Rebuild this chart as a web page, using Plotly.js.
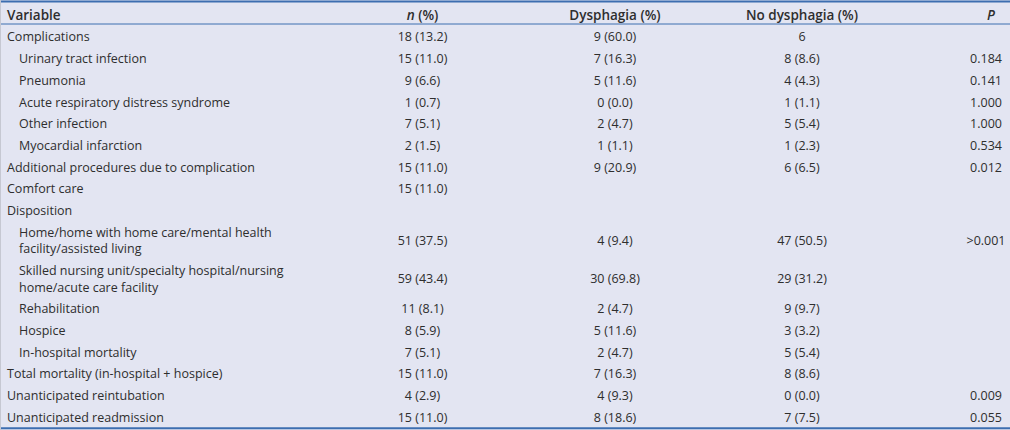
<!DOCTYPE html>
<html>
<head>
<meta charset="utf-8">
<script src="https://cdn.plot.ly/plotly-3.0.1.min.js"></script>
<style>
html,body{margin:0;padding:0;background:#e3e5f2;}
#chart{width:1010px;height:430px;}
</style>
</head>
<body>
<div id="chart"></div>
<script>
// ---- data ----
const headers = ["Variable", "<i>n</i> (%)", "Dysphagia (%)", "No dysphagia (%)", "<i>P</i>"];

const variables = [
  "Complications",
  "Urinary tract infection",
  "Pneumonia",
  "Acute respiratory distress syndrome",
  "Other infection",
  "Myocardial infarction",
  "Additional procedures due to complication",
  "Comfort care",
  "Disposition",
  "Home/home with home care/mental health<br>facility/assisted living",
  "Skilled nursing unit/specialty hospital/nursing<br>home/acute care facility",
  "Rehabilitation",
  "Hospice",
  "In-hospital mortality",
  "Total mortality (in-hospital + hospice)",
  "Unanticipated reintubation",
  "Unanticipated readmission"
];

const levels = [0, 1, 1, 1, 1, 1, 0, 0, 0, 1, 1, 1, 1, 1, 0, 0, 0];

const nPct = ["18 (13.2)", "15 (11.0)", "9 (6.6)", "1 (0.7)", "7 (5.1)", "2 (1.5)", "15 (11.0)", "15 (11.0)", "",
  "51 (37.5)", "59 (43.4)", "11 (8.1)", "8 (5.9)", "7 (5.1)", "15 (11.0)", "4 (2.9)", "15 (11.0)"];

const dysphagia = ["9 (60.0)", "7 (16.3)", "5 (11.6)", "0 (0.0)", "2 (4.7)", "1 (1.1)", "9 (20.9)", "", "",
  "4 (9.4)", "30 (69.8)", "2 (4.7)", "5 (11.6)", "2 (4.7)", "7 (16.3)", "4 (9.3)", "8 (18.6)"];

const noDysphagia = ["6", "8 (8.6)", "4 (4.3)", "1 (1.1)", "5 (5.4)", "1 (2.3)", "6 (6.5)", "", "",
  "47 (50.5)", "29 (31.2)", "9 (9.7)", "3 (3.2)", "5 (5.4)", "8 (8.6)", "0 (0.0)", "7 (7.5)"];

const pValues = ["", "0.184", "0.141", "1.000", "1.000", "0.534", "0.012", "", "",
  ">0.001", "", "", "", "", "", "0.009", "0.055"];

// ---- layout constants ----
const W = 1010, H = 430;
const COL_X = [7, 422.5, 615, 802, 986];
const HEADER_DX = [0, 0, 0, 0, 5];
const INDENT = 12;
const ROW_H = 21.7, EXTRA_LINE_H = 16.6;
const HEADER_Y = 13.5, BODY_TOP = 24.5;
const TEXT_DY = 3;
const TEXT_COLOR = "#2e2e2e";
const FONT = "Open Sans";
const FS = 12.5;
const HFS = 13.5;
const BG = "#e3e5f2";
const RULE = "#3d6eb0";

// row centres from the line count of each label
const rowY = [];
let cur = BODY_TOP;
variables.forEach(v => {
  const lines = v.split("<br>").length;
  const h = ROW_H + (lines - 1) * EXTRA_LINE_H;
  rowY.push(cur + h / 2 + TEXT_DY);
  cur += h;
});
const bodyBottom = cur;

const baseFont = {family: FONT, size: FS, color: TEXT_COLOR};

function col(idx, texts, pos) {
  return {
    type: "scatter", mode: "text",
    x: texts.map(() => COL_X[idx]),
    y: rowY,
    text: texts,
    textposition: pos,
    textfont: baseFont,
    hoverinfo: "skip", showlegend: false, cliponaxis: false
  };
}

const traces = [
  {
    type: "scatter", mode: "text",
    x: headers.map((_, i) => COL_X[i] + HEADER_DX[i]),
    y: headers.map(() => HEADER_Y + TEXT_DY),
    text: headers,
    textposition: ["middle right", "middle center", "middle center", "middle center", "middle center"],
    textfont: {family: FONT, size: HFS, color: TEXT_COLOR, weight: 600},
    hoverinfo: "skip", showlegend: false, cliponaxis: false
  },
  {
    type: "scatter", mode: "text",
    x: levels.map(l => COL_X[0] + l * INDENT),
    y: rowY,
    text: variables,
    textposition: "middle right",
    textfont: baseFont,
    hoverinfo: "skip", showlegend: false, cliponaxis: false
  },
  col(1, nPct, "middle center"),
  col(2, dysphagia, "middle center"),
  col(3, noDysphagia, "middle center"),
  col(4, pValues, "middle center")
];

const layout = {
  width: W, height: H,
  margin: {l: 0, r: 0, t: 0, b: 0, pad: 0},
  paper_bgcolor: BG, plot_bgcolor: BG,
  xaxis: {range: [0, W], visible: false, fixedrange: true},
  yaxis: {range: [H, 0], visible: false, fixedrange: true},
  showlegend: false,
  shapes: [
    {type: "line", xref: "paper", yref: "y", x0: 0, x1: 1, y0: 1.5, y1: 1.5, line: {color: RULE, width: 2}},
    {type: "line", xref: "paper", yref: "y", x0: 0, x1: 1, y0: BODY_TOP - 0.5, y1: BODY_TOP - 0.5, line: {color: RULE, width: 1}},
    {type: "line", xref: "paper", yref: "y", x0: 0, x1: 1, y0: bodyBottom + 1.7, y1: bodyBottom + 1.7, line: {color: RULE, width: 2}},
    {type: "line", xref: "x", yref: "paper", x0: 0.5, x1: 0.5, y0: 0, y1: 1, line: {color: "#c6c8d2", width: 1}}
  ]
};

Plotly.newPlot("chart", traces, layout, {displayModeBar: false, staticPlot: true});
</script>
</body>
</html>
